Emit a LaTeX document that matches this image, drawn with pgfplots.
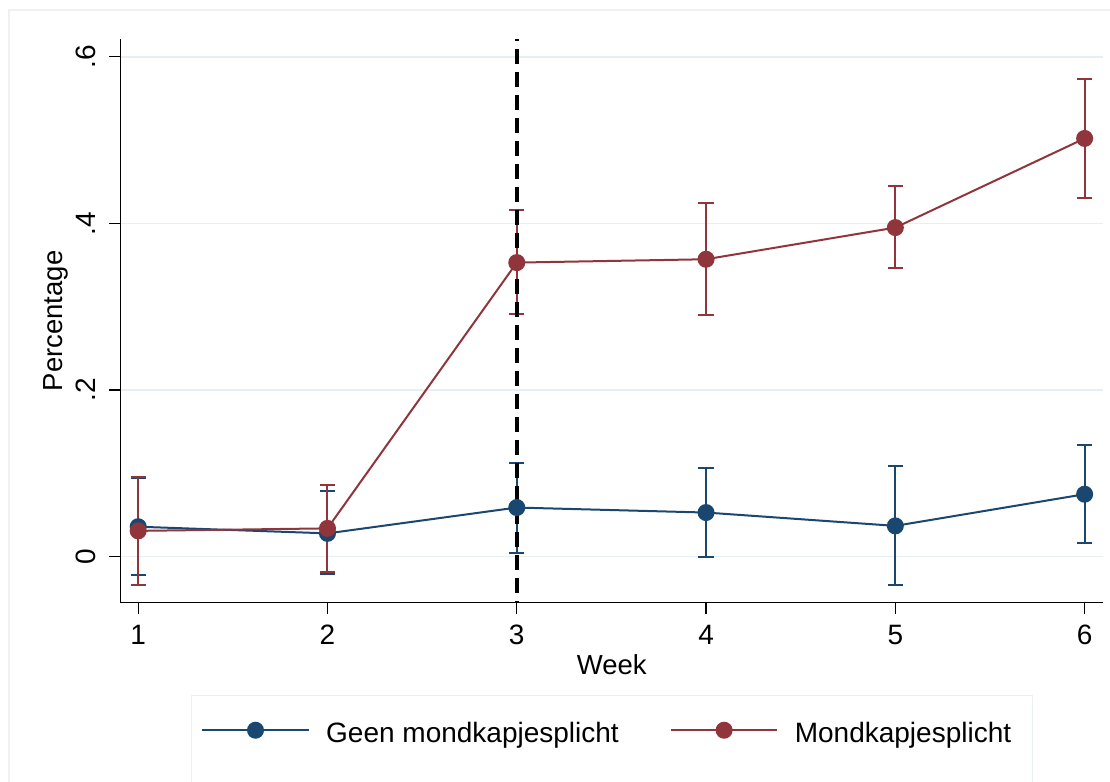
\documentclass[border=0pt]{standalone}
\usepackage{pgfplots}
\pgfplotsset{compat=1.18}
\usepackage{fontspec}
\setmainfont{Liberation Sans}
\definecolor{sblue}{RGB}{26,71,111}
\definecolor{sred}{RGB}{144,53,59}
\definecolor{gridc}{RGB}{230,239,242}
\definecolor{legc}{RGB}{232,240,241}
\begin{document}
\begin{tikzpicture}
\begin{axis}[
  at={(0pt,0pt)}, anchor=south west,
  scale only axis,
  width=491.3pt, height=281.7pt,
  xmin=0.906, xmax=6.097,
  ymin=-0.0552, ymax=0.621,
  axis lines=left,
  axis line style={-, line width=0.7pt, black},
  xtick={1,2,3,4,5,6},
  xticklabels={1,2,3,4,5,6},
  ytick={0,0.2,0.4,0.6},
  yticklabels={0,.2,.4,.6},
  tick align=outside,
  major tick length=5.5pt,
  tick style={black, line width=0.6pt},
  ymajorgrids,
  major grid style={gridc, line width=0.75pt},
  /pgf/number format/assume math mode=true,
  ticklabel style={font=\fontsize{14}{16}\selectfont, inner sep=0pt},
  yticklabel style={rotate=90, anchor=south, yshift=6.8pt},
  xticklabel style={anchor=north, yshift=-5.5pt},
  xlabel={Week},
  ylabel={Percentage},
  label style={font=\fontsize{13.75}{16}\selectfont, inner sep=0pt},
  xlabel style={at={(axis description cs:0.5,0)}, anchor=north, yshift=-25.7pt},
  ylabel style={at={(axis description cs:0,0.5)}, anchor=south, yshift=25.7pt},
  legend columns=2,
  legend cell align=left,
  legend style={
    at={(axis description cs:0.5,-0.1638)}, anchor=north,
    draw=legc, line width=0.6pt, inner xsep=5pt, inner ysep=13.5pt,
    font=\fontsize{14}{16}\selectfont,
    nodes={inner sep=0pt},
    /tikz/every odd column/.append style={column sep=8.2pt},
    /tikz/every even column/.append style={column sep=25.5pt},
  },
  legend image code/.code={
    \draw[#1, mark=none] (0pt,2pt) -- (53.3pt,2pt);
    \draw[#1] plot coordinates {(26.65pt,2pt)};
    \path (0pt,-30pt);
  },
]
\addplot[sblue, line width=1pt, mark=*, mark size=3.75pt,
  mark options={solid, fill=sblue, draw=sblue},
  error bars/.cd, y dir=both, y explicit,
  error bar style={sblue, line width=1pt},
  error mark options={rotate=90, mark size=3.8pt, line width=1pt, sblue}]
coordinates {
(1,0.036) += (0,0.059) -= (0,0.058)
(2,0.028) += (0,0.051) -= (0,0.049)
(3,0.059) += (0,0.054) -= (0,0.054)
(4,0.053) += (0,0.053) -= (0,0.053)
(5,0.037) += (0,0.072) -= (0,0.071)
(6,0.075) += (0,0.059) -= (0,0.059)
};
\addlegendentry{Geen mondkapjesplicht}
\addplot[sred, line width=1pt, mark=*, mark size=3.75pt,
  mark options={solid, fill=sred, draw=sred},
  error bars/.cd, y dir=both, y explicit,
  error bar style={sred, line width=1pt},
  error mark options={rotate=90, mark size=3.8pt, line width=1pt, sred}]
coordinates {
(1,0.031) += (0,0.065) -= (0,0.065)
(2,0.034) += (0,0.052) -= (0,0.052)
(3,0.353) += (0,0.063) -= (0,0.062)
(4,0.357) += (0,0.067) -= (0,0.067)
(5,0.395) += (0,0.050) -= (0,0.049)
(6,0.502) += (0,0.071) -= (0,0.072)
};
\addlegendentry{Mondkapjesplicht\rule{5.5pt}{0pt}}
\addplot[black, line width=2pt, dash pattern=on 7.5pt off 4pt, dash phase=6.5pt, forget plot]
coordinates {(3,0.621) (3,-0.0552)};
\end{axis}
\draw[black!6, line width=0.6pt] (-55.7pt,-120pt) rectangle (520pt,296.35pt);
\pgfresetboundingbox
\useasboundingbox (-60.2pt,-89.65pt) rectangle (494.8pt,301.35pt);
\end{tikzpicture}
\end{document}
